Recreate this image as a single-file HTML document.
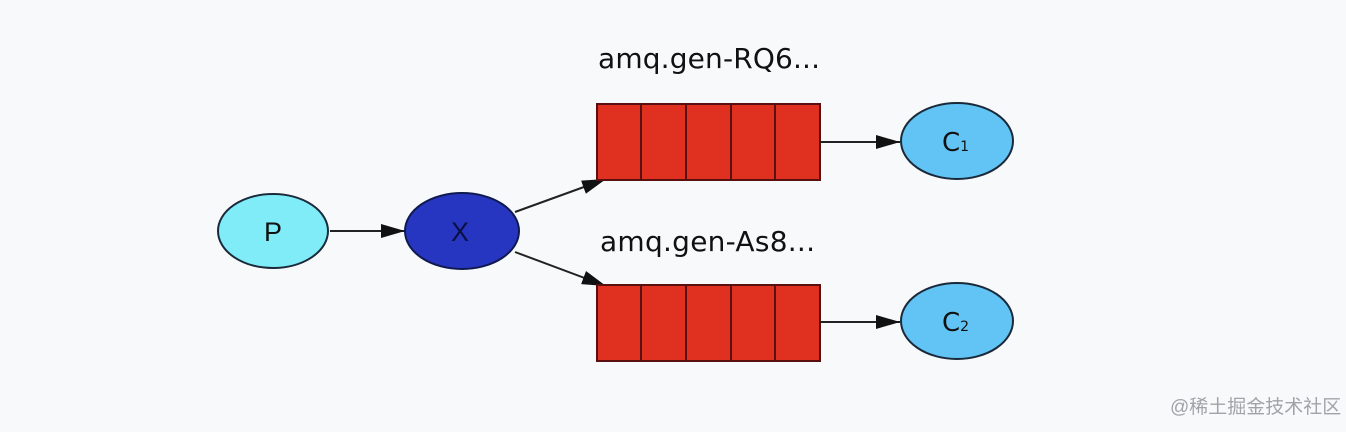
<!DOCTYPE html>
<html><head><meta charset="utf-8"><style>
html,body{margin:0;padding:0;background:#f8f9fb;}
</style></head><body>
<svg width="1346" height="432" viewBox="0 0 1346 432" xmlns="http://www.w3.org/2000/svg" style="display:block">
<defs>
<marker id="b" markerWidth="24" markerHeight="14" refX="24" refY="7" orient="auto" markerUnits="userSpaceOnUse"><path d="M0,0 L24,7 L0,14 z" fill="#111"/></marker></defs>
<rect width="1346" height="432" fill="#f8f9fb"/>
<ellipse cx="273" cy="231" rx="55" ry="37" fill="#7fecf7" stroke="#1a2a3a" stroke-width="2"/>
<text x="273" y="241" font-family="Liberation Sans, sans-serif" font-size="27" text-anchor="middle" fill="#111">P</text>
<line x1="330" y1="231" x2="405" y2="231" stroke="#222" stroke-width="2" marker-end="url(#b)"/>
<ellipse cx="462" cy="231" rx="57" ry="38" fill="#2636c0" stroke="#101a50" stroke-width="2"/>
<text x="460" y="241" font-family="Liberation Sans, sans-serif" font-size="27" text-anchor="middle" fill="#0b1040">X</text>
<line x1="515" y1="212" x2="606" y2="179" stroke="#222" stroke-width="2" marker-end="url(#b)"/>
<line x1="515" y1="252" x2="606" y2="286" stroke="#222" stroke-width="2" marker-end="url(#b)"/>
<text x="598" y="68" font-family="DejaVu Sans, sans-serif" font-size="28" fill="#111" textLength="222" lengthAdjust="spacing">amq.gen-RQ6...</text>
<text x="600" y="251" font-family="DejaVu Sans, sans-serif" font-size="28" fill="#111" textLength="215" lengthAdjust="spacing">amq.gen-As8...</text>
<g fill="#e0301f" stroke="#5a1010" stroke-width="2">
<rect x="597" y="104" width="44" height="76"/><rect x="641" y="104" width="45" height="76"/><rect x="686" y="104" width="45" height="76"/><rect x="731" y="104" width="44" height="76"/><rect x="775" y="104" width="45" height="76"/>
<rect x="597" y="285" width="44" height="76"/><rect x="641" y="285" width="45" height="76"/><rect x="686" y="285" width="45" height="76"/><rect x="731" y="285" width="44" height="76"/><rect x="775" y="285" width="45" height="76"/>
</g>
<line x1="820" y1="142" x2="900" y2="142" stroke="#222" stroke-width="2" marker-end="url(#b)"/>
<line x1="820" y1="322" x2="900" y2="322" stroke="#222" stroke-width="2" marker-end="url(#b)"/>
<ellipse cx="957" cy="141" rx="56" ry="38" fill="#62c4f4" stroke="#1a2a3a" stroke-width="2"/>
<ellipse cx="957" cy="321" rx="56" ry="38" fill="#62c4f4" stroke="#1a2a3a" stroke-width="2"/>
<text x="942" y="151" font-family="DejaVu Sans, sans-serif" font-size="26" fill="#111">C<tspan font-size="14">1</tspan></text>
<text x="942" y="331" font-family="DejaVu Sans, sans-serif" font-size="26" fill="#111">C<tspan font-size="14">2</tspan></text>
<text x="1170" y="413" font-family="Liberation Sans, Noto Sans CJK SC, sans-serif" font-size="19" fill="#a0a4a8">@稀土掘金技术社区</text>
</svg>
</body></html>
